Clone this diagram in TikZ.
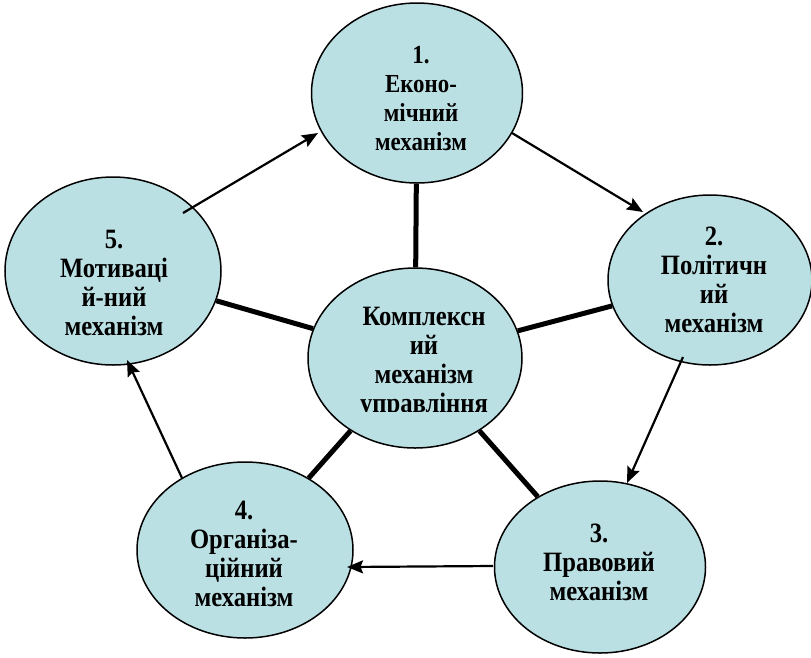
\documentclass[tikz,border=0pt]{standalone}
\usepackage{fontspec}
\setmainfont{Liberation Serif}
\newfontfamily\mechfont{Liberation Serif}[FakeStretch=0.88]
\usetikzlibrary{arrows.meta,calc,shapes.geometric}
\definecolor{mechfill}{RGB}{187,224,228}
\begin{document}
\begin{tikzpicture}[x=1pt,y=-1pt,
  mech/.style={ellipse, draw=black, line width=1.5pt, fill=mechfill, inner sep=0pt},
  lbl/.style={align=center, font=\mechfont\bfseries\fontsize{28}{29}\selectfont, inner sep=0pt},
  lblsmall/.style={lbl, font=\mechfont\bfseries\fontsize{26}{29}\selectfont},
  link/.style={line width=5pt},
  flow/.style={line width=2.2pt, -{Stealth[length=16pt,width=13pt,inset=2.5pt]}}]
\useasboundingbox (0,0) rectangle (811,657);

% the five mechanisms and the central one
\node[mech, minimum width=211pt, minimum height=180pt] (e1) at (417,93) {};
\node[mech, minimum width=204pt, minimum height=170pt] (e2) at (710,280) {};
\node[mech, minimum width=211pt, minimum height=172pt] (e3) at (600,567) {};
\node[mech, minimum width=216pt, minimum height=176pt] (e4) at (245,550) {};
\node[mech, minimum width=216pt, minimum height=188pt] (e5) at (113,271) {};
\node[mech, minimum width=214pt, minimum height=180pt] (c)  at (415,358) {};

% thick spokes from the centre
\draw[link] (c) -- (e1);
\draw[link] (c) -- (e2);
\draw[link] (c) -- (e3);
\draw[link] (c) -- (e4);
\draw[link] (c) -- (e5);

% ends of the cycle arrows
\coordinate (s51) at ($(e5)+(70,-58)$);
\coordinate (t51) at ($(e1)+(-99,40)$);
\coordinate (s12) at ($(e1)+(95,40)$);
\coordinate (t12) at ($(e2)+(-67,-68)$);
\coordinate (s23) at ($(e2)+(-27,77)$);
\coordinate (t23) at ($(e3)+(27,-84)$);
\coordinate (s34) at ($(e3)+(-107,-1)$);
\coordinate (t34) at ($(e4)+(102,17)$);
\coordinate (s45) at ($(e4)+(-63,-72)$);
\coordinate (t45) at ($(e5)+(14,89)$);

\draw[flow] (s51) -- (t51);
\draw[flow] (s12) -- (t12);
\draw[flow] (s23) -- (t23);
\draw[flow] (s34) -- (t34);
\draw[flow] (s45) -- (t45);

% labels
\node[lblsmall] (l1) at ($(e1)+(4,6)$) {1.\\Еконо-\\мічний\\механізм};
\node[lbl] (l2) at ($(e2)+(4,0)$) {2.\\Політичн\\ий\\механізм};
\node[lbl] (l3) at ($(e3)+(-1,-5)$) {3.\\Правовий\\механізм};
\node[lbl] (l4) at ($(e4)+(-1,4)$) {4.\\Організа-\\ційний\\механізм};
\node[lbl] (l5) at ($(e5)+(1,12)$) {5.\\Мотиваці\\й-ний\\механізм};
\begin{scope}
  \clip (300,280) rectangle (530,411);
  \node[lbl] (lc) at ($(c)+(9,5)$) {Комплексн\\ий\\механізм\\управління};
\end{scope}
\end{tikzpicture}
\end{document}
